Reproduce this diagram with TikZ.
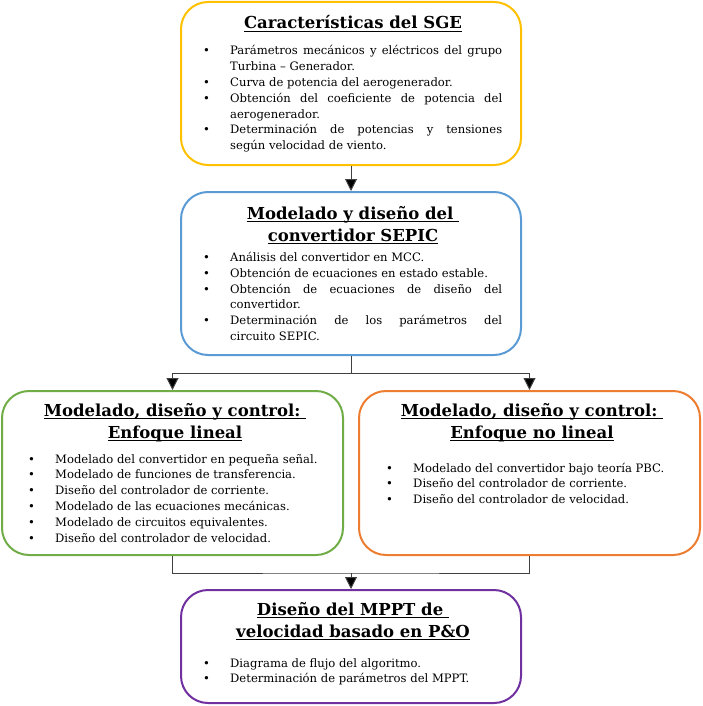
\documentclass[tikz,border=0pt]{standalone}
\usepackage{fontspec}
\setmainfont{DejaVu Serif}
\usetikzlibrary{arrows.meta}
\definecolor{cyel}{HTML}{FFC000}
\definecolor{cblu}{HTML}{5B9BD5}
\definecolor{cgrn}{HTML}{70AD47}
\definecolor{corg}{HTML}{ED7D31}
\definecolor{cpur}{HTML}{7030A0}
\definecolor{cline}{HTML}{404040}
\newcommand\bitem[1]{\noindent\hangindent=27pt\hangafter=1\makebox[27pt][l]{\textbullet}#1\par}
\newcommand\tul[1]{\setbox0\hbox{#1}\rlap{\rule[-3pt]{\wd0}{1.1pt}}\box0}
\begin{document}
\begin{tikzpicture}[x=1pt,y=-1pt,
  card/.style={draw=#1,line width=2pt,rounded corners=27pt,minimum width=340pt,inner sep=0pt,fill=white},
  ttl/.style={font=\bfseries\fontsize{16.5}{22}\selectfont,align=center,inner sep=0pt,anchor=base},
  lst/.style={text width=299pt,font=\fontsize{11.6}{15.8}\selectfont,inner sep=0pt,anchor=base west,align=justify},
  conn/.style={draw=cline,line width=1pt},
  arr/.style={conn,-{Triangle[length=12pt,width=12pt,fill=black]}}]
\useasboundingbox (0,0) rectangle (702,706);
\node[card=cyel,minimum height=163pt] (b1) at (351,83.5) {};
\node[card=cblu,minimum height=163pt] (b2) at (351,273.5) {};
\node[card=cgrn,minimum height=164pt,minimum width=341pt] (b3) at (172.5,473) {};
\node[card=corg,minimum height=164pt,minimum width=341pt] (b4) at (529.5,473) {};
\node[card=cpur,minimum height=113pt] (b5) at (351,646.5) {};
% titles (base anchor = baseline of the last line)
\node[ttl] (t1) at (353,29) {\tul{Características del SGE}};
\node[ttl] (t2) at (353,241) {\tul{Modelado y diseño del\ }\\\tul{convertidor SEPIC}};
\node[ttl] (t3) at (175,438) {\tul{Modelado, diseño y control:\ }\\\tul{Enfoque lineal}};
\node[ttl] (t4) at (532,438) {\tul{Modelado, diseño y control:\ }\\\tul{Enfoque no lineal}};
\node[ttl] (t5) at (353,637) {\tul{Diseño del MPPT de\ }\\\tul{velocidad basado en P\&O}};
% lists
\node[lst] (l1) at (203,55) {%
\bitem{Parámetros mecánicos y eléctricos del grupo\linebreak Turbina – Generador.}%
\bitem{Curva de potencia del aerogenerador.}%
\bitem{Obtención del coeficiente de potencia del\linebreak aerogenerador.}%
\bitem{Determinación de potencias y tensiones\linebreak según velocidad de viento.}};
\node[lst] (l2) at (203,261.5) {%
\bitem{Análisis del convertidor en MCC.}%
\bitem{Obtención de ecuaciones en estado estable.}%
\bitem{Obtención de ecuaciones de diseño del\linebreak convertidor.}%
\bitem{Determinación de los parámetros del\linebreak circuito SEPIC.}};
\node[lst] (l3) at (28,463) {%
\bitem{Modelado del convertidor en pequeña señal.}%
\bitem{Modelado de funciones de transferencia.}%
\bitem{Diseño del controlador de corriente.}%
\bitem{Modelado de las ecuaciones mecánicas.}%
\bitem{Modelado de circuitos equivalentes.}%
\bitem{Diseño del controlador de velocidad.}};
\node[lst] (l4) at (386,472) {%
\bitem{Modelado del convertidor bajo teoría PBC.}%
\bitem{Diseño del controlador de corriente.}%
\bitem{Diseño del controlador de velocidad.}};
\node[lst] (l5) at (203,667) {%
\bitem{Diagrama de flujo del algoritmo.}%
\bitem{Determinación de parámetros del MPPT.}};
% connectors
\coordinate (j1) at (351,373);
\coordinate (j2) at (351,573);
\draw[arr] (b1.south) -- (b2.north);
\draw[conn] (b2.south) -- (j1);
\draw[arr] (j1) -| (b3.north);
\draw[arr] (j1) -| (b4.north);
\draw[conn] (b3.south) |- (j2) -| (b4.south);
\draw[arr] (j2) -- (b5.north);
\end{tikzpicture}
\end{document}
